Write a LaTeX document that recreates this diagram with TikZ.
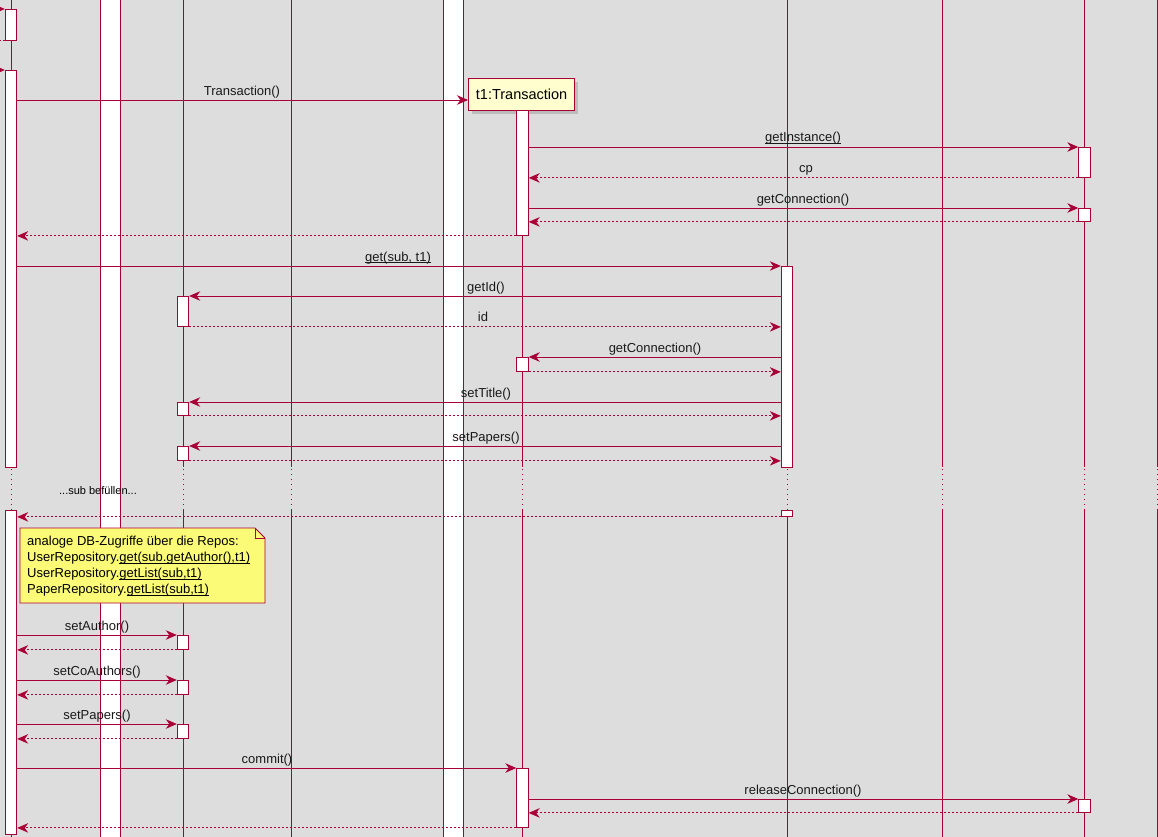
\documentclass[tikz,border=0pt]{standalone}
\usepackage{fontspec}
\setmainfont{Liberation Sans}
\usetikzlibrary{arrows.meta,shadows}
\definecolor{pu}{HTML}{A80036}
\definecolor{bg}{HTML}{DDDDDD}
\definecolor{notefill}{HTML}{FBFB77}
\definecolor{boxfill}{HTML}{FEFECE}
\newcommand\ulin[1]{\setbox0\hbox{#1}\rlap{\rule[-1.6pt]{\wd0}{0.7pt}}\box0}
\begin{document}
\begin{tikzpicture}[x=1pt,y=-1pt,
  life/.style={draw=pu, line width=0.9pt},
  lifedot/.style={draw=pu, line width=0.9pt, dash pattern=on 1pt off 4pt},
  actbar/.style={draw=pu, fill=white, line width=0.9pt, rectangle, minimum width=11.5pt, inner sep=0pt, anchor=north},
  msg/.style={draw=pu, line width=0.9pt, -{Stealth[length=11pt,width=9.5pt,inset=3.5pt]}},
  ret/.style={msg, dash pattern=on 2pt off 2pt},
  lbl/.style={font=\fontsize{13}{15}\selectfont, text=black!90, anchor=base, inner sep=0pt},
]
\useasboundingbox (0,0) rectangle (1158,837);
\fill[bg] (0,0) rectangle (1158,837);
\clip (0,0) rectangle (1158,837);

% white bands
\path[fill=white] (100,-2) rectangle (120,840);
\draw[life] (100,-2) -- (100,840);
\draw[life] (120,-2) -- (120,840);
\path[fill=white] (443,-2) rectangle (463,840);
\draw[life] (443,-2) -- (443,840);
\draw[life] (463,-2) -- (463,840);

% lifelines
\foreach \x in {11,183,291,787,942,1084,1157} {
  \draw[life] (\x,-2) -- (\x,467);
  \draw[lifedot] (\x,469) -- (\x,510);
  \draw[life] (\x,510) -- (\x,840);
}
\draw[life] (522.5,110) -- (522.5,467);
\draw[lifedot] (522.5,469) -- (522.5,510);
\draw[life] (522.5,510) -- (522.5,840);

% t1 box
\node[draw=pu, fill=boxfill, line width=1.2pt, minimum width=106pt, minimum height=32pt,
      font=\fontsize{14.5}{16}\selectfont, inner sep=0pt,
      drop shadow={shadow xshift=3pt, shadow yshift=-3pt, fill=black!35, opacity=0.6},
      anchor=north west] (t1box) at (468,78) {t1:Transaction};

% activation bars
\node[actbar, minimum height=31pt] (a1) at (11,9) {};
\node[actbar, minimum height=397pt] (a2) at (11,70) {};
\node[actbar, minimum height=324pt] (a3) at (11,510) {};
\node[actbar, minimum height=125pt] (t1a) at (522.5,110) {};
\node[actbar, minimum height=14pt] (t1b) at (522.5,357) {};
\node[actbar, minimum height=59pt] (t1c) at (522.5,768) {};
\node[actbar, minimum height=30pt] (cp1) at (1084.5,147) {};
\node[actbar, minimum height=13pt] (cp2) at (1084.5,208) {};
\node[actbar, minimum height=13pt] (cp3) at (1084.5,799) {};
\node[actbar, minimum height=201pt] (r1) at (787,266) {};
\node[actbar, minimum height=6pt] (r2) at (787,510) {};
\node[actbar, minimum height=30pt] (s1) at (183,296) {};
\node[actbar, minimum height=13pt] (s2) at (183,402) {};
\node[actbar, minimum height=14pt] (s3) at (183,446) {};
\node[actbar, minimum height=14pt] (s4) at (183,635) {};
\node[actbar, minimum height=14pt] (s5) at (183,680) {};
\node[actbar, minimum height=14pt] (s6) at (183,724) {};

% free ends at the left border
\coordinate (in1) at (-30,9);
\coordinate (out1) at (-30,40);
\coordinate (in2) at (-30,70);
\draw[msg] (in1) -- (a1.west |- in1);
\draw[ret] (a1.west |- out1) -- (out1);
\draw[msg] (in2) -- (a2.west |- in2);

% messages
\draw[msg] (a2.east |- 0,100) -- (t1box.west |- 0,100);
\node[lbl] at (242,96) {Transaction()};

\draw[msg] (t1a.east |- cp1.north) -- (cp1.north west);
\node[lbl] at (803,142) {\ulin{getInstance()}};
\draw[ret] (cp1.south west) -- (t1a.east |- cp1.south);
\node[lbl] at (806,172) {cp};

\draw[msg] (t1a.east |- cp2.north) -- (cp2.north west);
\node[lbl] at (803,203) {getConnection()};
\draw[ret] (cp2.south west) -- (t1a.east |- cp2.south);

\draw[ret] (t1a.south west) -- (a2.east |- t1a.south);

\draw[msg] (a2.east |- r1.north) -- (r1.north west);
\node[lbl] at (398,261) {\ulin{get(sub, t1)}};

\draw[msg] (r1.west |- s1.north) -- (s1.north east);
\node[lbl] at (486,291) {getId()};
\draw[ret] (s1.south east) -- (r1.west |- s1.south);
\node[lbl] at (483,321) {id};

\draw[msg] (r1.west |- t1b.north) -- (t1b.north east);
\node[lbl] at (655,352) {getConnection()};
\draw[ret] (t1b.south east) -- (r1.west |- t1b.south);

\draw[msg] (r1.west |- s2.north) -- (s2.north east);
\node[lbl] at (486,397) {setTitle()};
\draw[ret] (s2.south east) -- (r1.west |- s2.south);

\draw[msg] (r1.west |- s3.north) -- (s3.north east);
\node[lbl] at (486,441) {setPapers()};
\draw[ret] (s3.south east) -- (r1.west |- s3.south);

% delay
\node[font=\fontsize{11}{13}\selectfont, anchor=base, inner sep=0pt] (delay) at (98,494) {...sub befüllen...};

\draw[ret] (r2.south west) -- (a3.east |- r2.south);

% note
\draw[draw=pu, fill=notefill, line width=0.9pt] (20,528) -- (255,528) -- (265,538) -- (265,603) -- (20,603) -- cycle;
\draw[draw=pu, line width=0.9pt] (255,528) -- (255,538) -- (265,538);
\node[anchor=north west, inner sep=0pt, align=left, font=\fontsize{13}{16}\selectfont] (note) at (27,536)
  {analoge DB-Zugriffe über die Repos:\\
   UserRepository.\ulin{get(sub.getAuthor(),t1)}\\
   UserRepository.\ulin{getList(sub,t1)}\\
   PaperRepository.\ulin{getList(sub,t1)}};

\draw[msg] (a3.east |- s4.north) -- (s4.north west);
\node[lbl] at (97,630) {setAuthor()};
\draw[ret] (s4.south west) -- (a3.east |- s4.south);

\draw[msg] (a3.east |- s5.north) -- (s5.north west);
\node[lbl] at (97,675) {setCoAuthors()};
\draw[ret] (s5.south west) -- (a3.east |- s5.south);

\draw[msg] (a3.east |- s6.north) -- (s6.north west);
\node[lbl] at (97,719) {setPapers()};
\draw[ret] (s6.south west) -- (a3.east |- s6.south);

\draw[msg] (a3.east |- t1c.north) -- (t1c.north west);
\node[lbl] at (267,763) {commit()};

\draw[msg] (t1c.east |- cp3.north) -- (cp3.north west);
\node[lbl] at (803,794) {releaseConnection()};
\draw[ret] (cp3.south west) -- (t1c.east |- cp3.south);

\draw[ret] (t1c.south west) -- (a3.east |- t1c.south);
\end{tikzpicture}
\end{document}
